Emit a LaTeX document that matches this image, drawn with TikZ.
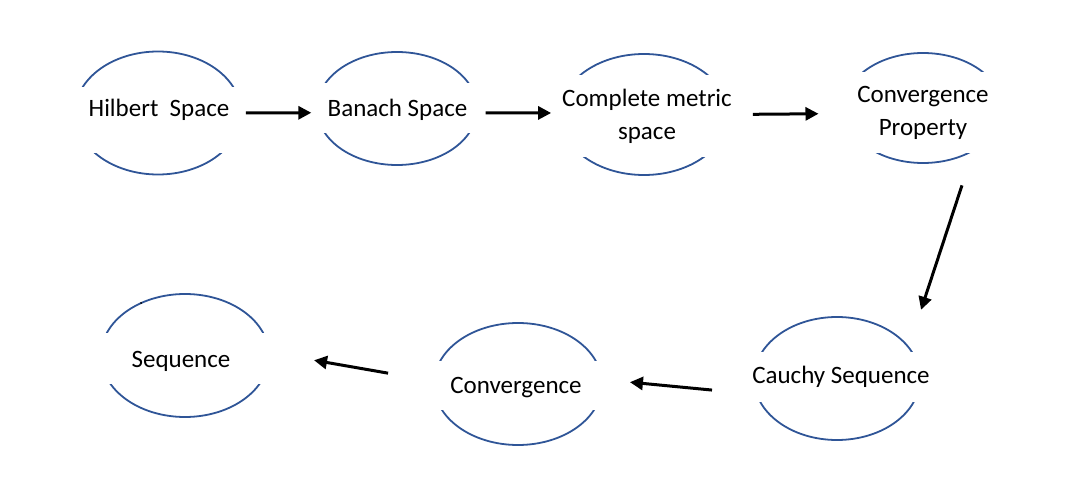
\documentclass[tikz,border=0pt]{standalone}
\usepackage{fontspec}
\setmainfont{Carlito}
\usetikzlibrary{shapes.geometric, arrows.meta}
\definecolor{ovalblue}{RGB}{47,85,151}
\tikzstyle{oval} = [ellipse, draw=ovalblue, line width=1.8pt, inner sep=0pt]
\tikzstyle{band} = [rectangle, fill=white, inner sep=0pt]
\tikzstyle{word} = [font=\fontsize{25}{33}\selectfont, align=center, inner sep=0pt, anchor=base]
\tikzstyle{arrow} = [line width=3pt, -{Triangle[length=13pt, width=13pt]}]

\begin{document}
\begin{tikzpicture}[x=1pt, y=-1pt]
	\useasboundingbox (0,0) rectangle (1069,497);
	% ovals
	\node (hs) [oval, minimum width=166pt, minimum height=123pt] at (158,113) {};
	\node (bs) [oval, minimum width=160pt, minimum height=113pt] at (397,108.5) {};
	\node (cms) [oval, minimum width=168pt, minimum height=121pt] at (644,114.5) {};
	\node (cp) [oval, minimum width=158pt, minimum height=110pt] at (923,108) {};
	\node (cs) [oval, minimum width=166pt, minimum height=123pt] at (837,378.5) {};
	\node (conv) [oval, minimum width=168pt, minimum height=122pt] at (518,384) {};
	\node (seq) [oval, minimum width=168pt, minimum height=123pt] at (185,355.5) {};
	\fill (141,303) circle (1pt);
	% text boxes over the ovals
	\node (hsband) [band, minimum width=178pt, minimum height=66pt] at (158,120) {};
	\node (bsband) [band, minimum width=172pt, minimum height=50pt] at (397,108) {};
	\node (cmsband) [band, minimum width=180pt, minimum height=82pt] at (644,116) {};
	\node (cpband) [band, minimum width=172pt, minimum height=81pt] at (923,112.5) {};
	\node (csband) [band, minimum width=178pt, minimum height=50pt] at (837,377) {};
	\node (convband) [band, minimum width=180pt, minimum height=49pt] at (518,385.5) {};
	\node (seqband) [band, minimum width=180pt, minimum height=51pt] at (185,358.5) {};
	\node (hstext) [word] at (159,117) {Hilbert\ \ Space};
	\node (bstext) [word] at (397.5,117) {Banach Space};
	\node (cmstext) [word] at (647,140) {Complete metric\\space};
	\node (cptext) [word] at (923,136) {Convergence\\Property};
	\node (cstext) [word] at (841,383) {Cauchy Sequence};
	\node (convtext) [word] at (516,393) {Convergence};
	\node (seqtext) [word] at (181,367) {Sequence};

	\draw [arrow, shorten <=4pt, shorten >=5pt] (hs.0) -- (bs.183.6);
	\draw [arrow, shorten <=8pt, shorten >=8pt] (bs.-3.6) -- (cms.179.3);
	\draw [arrow, shorten <=24pt, shorten >=25pt] (cms.0.7) -- (cp.184);
	\draw [arrow, shorten <=35.6pt, shorten >=38.6pt] (cp.-41.3) -- (cs.24.1);
	\draw [arrow, shorten <=44pt, shorten >=27.4pt] (cs.191.1) -- (conv.3.1);
	\draw [arrow, shorten <=45.8pt, shorten >=44.9pt] (conv.178.8) -- (seq.2.5);
\end{tikzpicture}
\end{document}
